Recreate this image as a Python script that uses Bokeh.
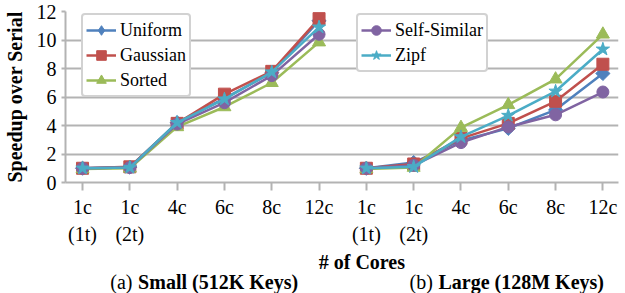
from bokeh.plotting import figure
from bokeh.layouts import column
from bokeh.models import (Legend, LegendItem, FixedTicker, Label, Range1d)
from bokeh.embed import file_html
from bokeh.resources import INLINE

# ---- data ----
categories = ["1c\n(1t)", "1c\n(2t)", "4c", "6c", "8c", "12c"]
series_names = ["Uniform", "Gaussian", "Sorted", "Self-Similar", "Zipf"]

# (a) Small (512K Keys)
uniform_small = [1.0, 1.08, 4.2, 5.9, 7.7, 11.35]
gaussian_small = [1.0, 1.1, 4.15, 6.2, 7.8, 11.5]
sorted_small = [0.95, 1.0, 3.9, 5.3, 7.0, 9.85]
selfsim_small = [1.0, 1.05, 4.1, 5.6, 7.5, 10.4]
zipf_small = [1.0, 1.05, 4.2, 5.85, 7.75, 10.9]

# (b) Large (128M Keys)
uniform_large = [1.0, 1.4, 2.95, 3.8, 5.1, 7.65]
gaussian_large = [1.0, 1.3, 3.1, 4.15, 5.7, 8.3]
sorted_large = [0.95, 1.05, 3.85, 5.45, 7.25, 10.4]
selfsim_large = [1.0, 1.2, 2.8, 3.9, 4.75, 6.35]
zipf_large = [1.0, 1.1, 3.2, 4.7, 6.4, 9.35]

y_ticks = [0, 2, 4, 6, 8, 10, 12]
x_title = "# of Cores"
captions = [("(a)", "Small (512K Keys)"), ("(b)", "Large (128M Keys)")]

small = [uniform_small, gaussian_small, sorted_small, selfsim_small, zipf_small]
large = [uniform_large, gaussian_large, sorted_large, selfsim_large, zipf_large]

colors = ["#4F81BD", "#C0504D", "#9BBB59", "#8064A2", "#4BACC6"]
markers = ["square", "square", "triangle", "circle", "star"]
legend_markers = ["diamond", "square", "triangle", "circle", "star"]
angles = [0.7854, 0, 0, 0, 0]
sizes = [10, 12, 13, 12, 14]

FONT = "Liberation Serif"
GRID = "#b3b3b3"

n = len(categories)
x_small = list(range(n))
x_large = list(range(n, 2 * n))
all_labels = categories + categories

W = 617
TOP, LEFT, RIGHT, BOTTOM = 11, 62, 2, 65
FW, FH = W - LEFT - RIGHT, 171
H1 = TOP + FH + BOTTOM
H2 = 45
PAGE_DY = 1  # observed vertical offset of the layout on the page

p = figure(frame_width=FW, frame_height=FH, output_backend="svg",
           toolbar_location=None,
           x_range=Range1d(-0.36, 11.33), y_range=Range1d(0, 12),
           min_border_left=LEFT, min_border_right=RIGHT, min_border_top=TOP,
           min_border_bottom=BOTTOM)
p.outline_line_color = None
p.background_fill_color = "white"

legend_renderers = []
for i, name in enumerate(series_names):
    first = None
    for xs, ys in ((x_small, small[i]), (x_large, large[i])):
        l = p.line(xs, ys, line_color=colors[i], line_width=2.5)
        s = p.scatter(xs, ys, marker=markers[i], size=sizes[i], angle=angles[i],
                      fill_color=colors[i], line_color=colors[i])
        if first is None:
            first = l
    # legend swatch marker (legend glyphs are never rotated, so use the
    # library's diamond marker for the swatch; this renderer is hidden)
    sw = p.scatter(x_small, small[i], marker=legend_markers[i], size=sizes[i],
                   fill_color=colors[i], line_color=colors[i], visible=False)
    legend_renderers.append([first, sw])

# axes
p.xaxis.ticker = FixedTicker(ticks=list(range(2 * n)))
p.xaxis.major_label_overrides = {i: lab for i, lab in enumerate(all_labels)}
p.xaxis.major_label_text_font = FONT
p.xaxis.major_label_text_font_size = "20px"
p.xaxis.major_label_text_line_height = 1.25
p.xaxis.major_label_text_color = "black"
p.xaxis.major_label_standoff = 5
p.xaxis.major_tick_out = 8
p.xaxis.major_tick_in = 0
p.xaxis.minor_tick_line_color = None
p.xaxis.axis_line_color = GRID
p.xaxis.axis_line_width = 2
p.xaxis.major_tick_line_color = GRID
p.xaxis.major_tick_line_width = 2

p.yaxis.ticker = FixedTicker(ticks=y_ticks)
p.yaxis.major_label_text_font = FONT
p.yaxis.major_label_text_font_size = "20px"
p.yaxis.major_label_text_color = "black"
p.yaxis.major_label_standoff = 5
p.yaxis.major_tick_out = 4
p.yaxis.major_tick_in = 0
p.yaxis.minor_tick_line_color = None
p.yaxis.axis_line_color = GRID
p.yaxis.axis_line_width = 2
p.yaxis.major_tick_line_color = GRID
p.yaxis.major_tick_line_width = 2
p.yaxis.axis_label = "Speedup over Serial"
p.yaxis.axis_label_text_font = FONT
p.yaxis.axis_label_text_font_size = "20px"
p.yaxis.axis_label_text_font_style = "bold"
p.yaxis.axis_label_text_color = "black"
p.yaxis.axis_label_standoff = 8

p.xgrid.grid_line_color = None
p.ygrid.grid_line_color = GRID
p.ygrid.grid_line_width = 2

# legends
def make_legend(idxs, loc):
    items = [LegendItem(label=series_names[i], renderers=legend_renderers[i])
             for i in idxs]
    lg = Legend(items=items, location=loc, orientation="vertical",
                label_text_font=FONT, label_text_font_size="18px",
                label_text_color="black",
                label_height=24, glyph_height=24, glyph_width=30,
                label_standoff=4, spacing=1, padding=3, margin=0,
                border_line_color="#a6a6a6", border_line_width=2,
                background_fill_color="white", background_fill_alpha=1.0)
    try:
        lg.border_radius = 4
    except Exception:
        pass
    return lg

p.add_layout(make_legend([0, 1, 2], (16, FH - 6 - 80)))
p.add_layout(make_legend([3, 4], (291, FH - 6 - 55)))

# caption strip below the chart; its frame is aligned with the chart frame,
# so its x range is expressed in page pixels of that frame (70 .. 623)
p2 = figure(width=W, height=H2, output_backend="svg", toolbar_location=None,
            x_range=Range1d(8 + LEFT, 8 + LEFT + FW), y_range=Range1d(0, H2),
            x_axis_location=None, y_axis_location=None, min_border=0,
            min_border_left=LEFT, min_border_right=RIGHT)
p2.grid.visible = False
p2.outline_line_color = None

top2 = PAGE_DY + H1  # page y of the strip top
def sy(page_y):
    return H2 - (page_y - top2)

p2.add_layout(Label(x=368, y=sy(261), text=x_title,
                    text_font=FONT, text_font_size="20px", text_font_style="bold",
                    text_align="center", text_baseline="middle", text_color="black"))
cap_x = [(115, 143), (416, 445)]
for (pre, main), (x0, x1) in zip(captions, cap_x):
    p2.add_layout(Label(x=x0, y=sy(281), text=pre, text_font=FONT,
                        text_font_size="20px", text_align="left",
                        text_baseline="middle", text_color="black"))
    p2.add_layout(Label(x=x1, y=sy(281), text=main, text_font=FONT,
                        text_font_size="20px", text_font_style="bold",
                        text_align="left", text_baseline="middle",
                        text_color="black"))

open("out.html", "w").write(file_html(column(p, p2, spacing=0), INLINE))
